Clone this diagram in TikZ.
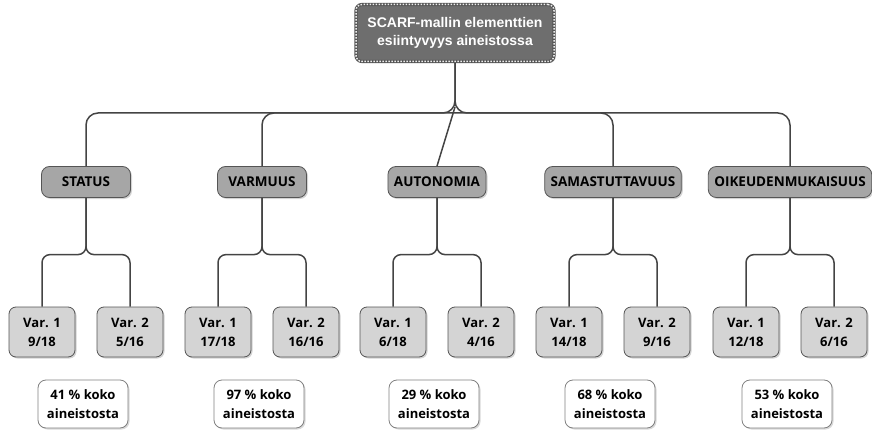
\documentclass[tikz,border=0pt]{standalone}
\usepackage{fontspec}
\setmainfont{Open Sans}
\newfontfamily\rootfont{Liberation Sans}
\usepackage{xcolor}
\usepackage{tikz}
\usetikzlibrary{shapes,arrows.meta,positioning,calc,shadows}
\definecolor{rootgray}{HTML}{6E6E6E}
\definecolor{catgray}{HTML}{A6A6A6}
\definecolor{vargray}{HTML}{D4D4D4}
\definecolor{edgegray}{HTML}{555555}
\definecolor{linegray}{HTML}{444444}
\tikzset{
  rootbox/.style={rectangle,rounded corners=6pt,fill=rootgray,
    draw=edgegray,line width=3.2pt,
    postaction={draw=white!85!gray,line width=1.5pt,dash pattern=on 1.5pt off 1.5pt},
    minimum width=198pt,minimum height=57pt,text=white,align=center,
    font=\rootfont\bfseries\fontsize{14}{18}\selectfont,
    drop shadow={shadow xshift=1.5pt,shadow yshift=-1.5pt,opacity=0.4}},
  catbox/.style={rectangle,rounded corners=8pt,fill=catgray,draw=edgegray,
    line width=0.8pt,minimum width=89pt,minimum height=31pt,inner xsep=6pt,
    font=\bfseries\fontsize{13.5}{16}\selectfont,
    drop shadow={shadow xshift=1.5pt,shadow yshift=-1.5pt,opacity=0.35}},
  varbox/.style={rectangle,rounded corners=7pt,fill=vargray,draw=edgegray,
    line width=0.8pt,minimum width=66pt,minimum height=50pt,align=center,
    font=\bfseries\fontsize{13}{19}\selectfont,
    drop shadow={shadow xshift=1.5pt,shadow yshift=-1.5pt,opacity=0.35}},
  sumbox/.style={rectangle,rounded corners=8pt,fill=white,draw=gray,
    line width=0.8pt,minimum width=90pt,minimum height=48pt,align=center,
    font=\bfseries\fontsize{13}{19}\selectfont,
    drop shadow={shadow xshift=1.5pt,shadow yshift=-1.5pt,opacity=0.3}},
  link/.style={draw=linegray,line width=1.5pt,rounded corners=12pt},
  fork/.style={draw=linegray,line width=1.5pt,rounded corners=8pt},
}

\begin{document}
\begin{tikzpicture}[x=1pt,y=-1pt]
  \useasboundingbox (0,0) rectangle (872,433);

  % root and elements
  \node[rootbox] (R) at (455,33) {SCARF-mallin elementtien\\esiintyvyys aineistossa};
  \node[catbox] (ST) at (86,182)  {STATUS};
  \node[catbox] (VA) at (262,182) {VARMUUS};
  \node[catbox] (AU) at (437,182) {AUTONOMIA};
  \node[catbox] (SA) at (613,182) {SAMASTUTTAVUUS};
  \node[catbox] (OI) at (790,182) {OIKEUDENMUKAISUUS};

  % variants
  \node[varbox] (ST1) at ($(ST)+(-44,150)$) {Var. 1\\9/18};
  \node[varbox] (ST2) at ($(ST)+(44,150)$)  {Var. 2\\5/16};
  \node[varbox] (VA1) at ($(VA)+(-44,150)$) {Var. 1\\17/18};
  \node[varbox] (VA2) at ($(VA)+(44,150)$)  {Var. 2\\16/16};
  \node[varbox] (AU1) at ($(AU)+(-44,150)$) {Var. 1\\6/18};
  \node[varbox] (AU2) at ($(AU)+(44,150)$)  {Var. 2\\4/16};
  \node[varbox] (SA1) at ($(SA)+(-44,150)$) {Var. 1\\14/18};
  \node[varbox] (SA2) at ($(SA)+(44,150)$)  {Var. 2\\9/16};
  \node[varbox] (OI1) at ($(OI)+(-44,150)$) {Var. 1\\12/18};
  \node[varbox] (OI2) at ($(OI)+(44,150)$)  {Var. 2\\6/16};

  % totals
  \node[sumbox] (STt) at ($(ST)+(-3,222)$) {41 \% koko\\aineistosta};
  \node[sumbox] (VAt) at ($(VA)+(-3,222)$) {97 \% koko\\aineistosta};
  \node[sumbox] (AUt) at ($(AU)+(-3,222)$) {29 \% koko\\aineistosta};
  \node[sumbox] (SAt) at ($(SA)+(-3,222)$) {68 \% koko\\aineistosta};
  \node[sumbox] (OIt) at ($(OI)+(-3,222)$) {53 \% koko\\aineistosta};

  \coordinate (J) at (455,113);
  \draw[link] (R.south) -- (J) -- (ST.north |- J) -- (ST.north);
  \draw[link] (R.south) -- (J) -- (OI.north |- J) -- (OI.north);
  \draw[link] (J) -- (VA.north |- J) -- (VA.north);
  \draw[link] (J) -- (SA.north |- J) -- (SA.north);
  \draw[link] ($(J)+(0,-6)$) -- (AU.north);

  \draw[fork] (ST.south) |- ($(ST1.north)+(0,-52)$) -- (ST1.north);
  \draw[fork] (ST.south) |- ($(ST2.north)+(0,-52)$) -- (ST2.north);
  \draw[fork] (VA.south) |- ($(VA1.north)+(0,-52)$) -- (VA1.north);
  \draw[fork] (VA.south) |- ($(VA2.north)+(0,-52)$) -- (VA2.north);
  \draw[fork] (AU.south) |- ($(AU1.north)+(0,-52)$) -- (AU1.north);
  \draw[fork] (AU.south) |- ($(AU2.north)+(0,-52)$) -- (AU2.north);
  \draw[fork] (SA.south) |- ($(SA1.north)+(0,-52)$) -- (SA1.north);
  \draw[fork] (SA.south) |- ($(SA2.north)+(0,-52)$) -- (SA2.north);
  \draw[fork] (OI.south) |- ($(OI1.north)+(0,-52)$) -- (OI1.north);
  \draw[fork] (OI.south) |- ($(OI2.north)+(0,-52)$) -- (OI2.north);
\end{tikzpicture}
\end{document}
